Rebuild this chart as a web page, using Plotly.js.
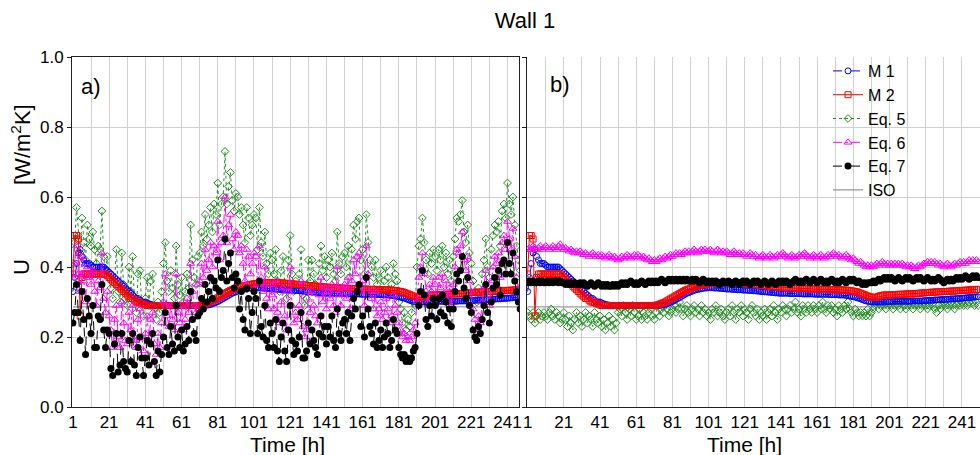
<!DOCTYPE html>
<html>
<head>
<meta charset="utf-8">
<script src="https://cdn.plot.ly/plotly-3.0.1.min.js"></script>
<style>html,body{margin:0;padding:0;background:#fff;}#chart{width:980px;height:455px;}</style>
</head>
<body>
<div id="chart"></div>
<script>
// ---- data (U-values in W/m2K, hourly) ----
const tickHours = [1,21,41,61,81,101,121,141,161,181,201,221,241];
const tickLabels = ['1','21','41','61','81','101','121','141','161','181','201','221','241'];

const isoHours = [1, 250];
const isoU = [0.286, 0.286];

// M 1 and M 2 (same measurement series in both panels)
const m1 = [
0.33,0.37,0.41,0.44,0.45,0.43,0.42,0.41,0.41,0.41,
0.405,0.40,0.40,0.40,0.40,0.40,0.40,0.40,0.395,0.39,
0.385,0.38,0.375,0.37,0.365,0.36,0.355,0.35,0.345,0.34,
0.335,0.33,0.325,0.32,0.315,0.31,0.31,0.305,0.30,0.30,
0.30,0.297,0.295,0.293,0.292,0.291,0.29,0.29,0.29,0.29,
0.29,0.29,0.29,0.29,0.29,0.29,0.29,0.29,0.29,0.29,
0.29,0.29,0.29,0.29,0.29,0.29,0.29,0.29,0.29,0.29,
0.29,0.29,0.29,0.29,0.291,0.292,0.293,0.295,0.297,0.299,
0.301,0.304,0.307,0.31,0.313,0.316,0.319,0.322,0.325,0.327,
0.329,0.331,0.333,0.335,0.336,0.337,0.338,0.339,0.34,0.34,
0.341,0.341,0.341,0.34,0.34,0.34,0.339,0.339,0.338,0.338,
0.337,0.337,0.337,0.336,0.336,0.336,0.335,0.335,0.335,0.334,
0.334,0.334,0.333,0.333,0.333,0.332,0.332,0.331,0.331,0.33,
0.33,0.329,0.329,0.328,0.328,0.327,0.327,0.326,0.326,0.325,
0.325,0.325,0.325,0.325,0.325,0.324,0.324,0.324,0.324,0.324,
0.324,0.324,0.323,0.323,0.323,0.323,0.323,0.323,0.323,0.322,
0.322,0.322,0.322,0.322,0.322,0.322,0.322,0.321,0.321,0.321,
0.321,0.321,0.32,0.32,0.32,0.32,0.319,0.318,0.317,0.316,
0.315,0.314,0.312,0.311,0.309,0.307,0.305,0.303,0.302,0.301,
0.30,0.30,0.30,0.30,0.30,0.30,0.30,0.30,0.301,0.301,
0.301,0.301,0.302,0.302,0.302,0.302,0.302,0.302,0.302,0.302,
0.302,0.302,0.302,0.303,0.303,0.303,0.303,0.303,0.303,0.304,
0.304,0.304,0.305,0.305,0.305,0.306,0.306,0.306,0.307,0.307,
0.307,0.308,0.308,0.308,0.309,0.309,0.309,0.31,0.31,0.31,
0.311,0.311,0.312,0.312,0.313,0.313,0.314,0.314,0.315,0.315];

const m2 = [
0.38,0.49,0.49,0.48,0.26,0.37,0.38,0.38,0.38,0.38,
0.38,0.38,0.38,0.38,0.38,0.38,0.38,0.38,0.38,0.375,
0.37,0.365,0.36,0.355,0.35,0.345,0.34,0.335,0.33,0.325,
0.32,0.315,0.31,0.31,0.305,0.30,0.30,0.298,0.296,0.294,
0.292,0.29,0.29,0.29,0.29,0.29,0.29,0.29,0.29,0.29,
0.29,0.29,0.29,0.29,0.29,0.29,0.29,0.29,0.29,0.29,
0.29,0.29,0.29,0.29,0.29,0.29,0.29,0.29,0.29,0.29,
0.29,0.291,0.292,0.294,0.296,0.298,0.30,0.303,0.306,0.309,
0.312,0.315,0.318,0.321,0.324,0.327,0.33,0.333,0.335,0.337,
0.339,0.341,0.343,0.345,0.346,0.347,0.348,0.349,0.35,0.351,
0.352,0.353,0.353,0.354,0.354,0.354,0.355,0.355,0.355,0.355,
0.355,0.355,0.355,0.355,0.355,0.354,0.354,0.354,0.353,0.353,
0.352,0.352,0.351,0.351,0.35,0.35,0.349,0.349,0.348,0.348,
0.347,0.347,0.346,0.346,0.345,0.345,0.344,0.344,0.343,0.343,
0.342,0.342,0.342,0.341,0.341,0.341,0.34,0.34,0.34,0.34,
0.339,0.339,0.339,0.339,0.338,0.338,0.338,0.338,0.337,0.337,
0.337,0.337,0.337,0.336,0.336,0.336,0.336,0.336,0.335,0.335,
0.335,0.335,0.335,0.335,0.334,0.334,0.334,0.333,0.333,0.332,
0.331,0.33,0.329,0.327,0.325,0.323,0.321,0.319,0.317,0.315,
0.314,0.313,0.313,0.314,0.316,0.318,0.319,0.32,0.32,0.32,
0.32,0.32,0.321,0.321,0.321,0.322,0.322,0.322,0.322,0.323,
0.323,0.323,0.323,0.324,0.324,0.324,0.325,0.325,0.326,0.326,
0.327,0.327,0.327,0.328,0.328,0.328,0.329,0.329,0.329,0.33,
0.33,0.33,0.33,0.331,0.331,0.331,0.332,0.332,0.332,0.333,
0.333,0.333,0.334,0.334,0.334,0.335,0.335,0.335,0.336,0.336];

// panel a)
const eq5a = [
0.41,0.47,0.57,0.49,0.44,0.54,0.47,0.42,0.52,0.48,
0.46,0.50,0.45,0.41,0.46,0.45,0.56,0.43,0.39,0.43,
0.37,0.34,0.31,0.36,0.45,0.33,0.30,0.44,0.35,0.31,
0.29,0.40,0.33,0.43,0.30,0.27,0.38,0.39,0.29,0.26,
0.31,0.37,0.29,0.36,0.38,0.28,0.25,0.30,0.27,0.33,
0.41,0.47,0.36,0.33,0.39,0.34,0.31,0.46,0.35,0.32,
0.37,0.30,0.33,0.38,0.34,0.52,0.42,0.37,0.35,0.43,
0.44,0.50,0.46,0.55,0.48,0.52,0.57,0.50,0.58,0.55,
0.64,0.52,0.58,0.60,0.73,0.58,0.63,0.67,0.59,0.56,
0.61,0.60,0.55,0.57,0.52,0.47,0.57,0.54,0.49,0.52,
0.55,0.54,0.45,0.57,0.47,0.43,0.50,0.41,0.38,0.44,
0.42,0.38,0.45,0.36,0.33,0.39,0.43,0.35,0.31,0.42,
0.49,0.38,0.33,0.36,0.34,0.38,0.45,0.32,0.29,0.31,
0.42,0.36,0.42,0.38,0.35,0.33,0.41,0.46,0.39,0.43,
0.37,0.42,0.40,0.44,0.38,0.36,0.50,0.41,0.38,0.43,
0.44,0.40,0.46,0.37,0.45,0.52,0.48,0.53,0.54,0.42,
0.45,0.38,0.55,0.47,0.42,0.40,0.37,0.42,0.35,0.37,
0.39,0.33,0.36,0.40,0.37,0.32,0.35,0.41,0.38,0.36,
0.30,0.28,0.24,0.27,0.22,0.25,0.23,0.27,0.30,0.29,
0.40,0.46,0.48,0.54,0.47,0.42,0.38,0.44,0.41,0.45,
0.43,0.39,0.45,0.42,0.46,0.40,0.44,0.38,0.42,0.36,
0.43,0.48,0.54,0.53,0.55,0.59,0.50,0.47,0.52,0.44,
0.41,0.36,0.33,0.30,0.34,0.31,0.38,0.42,0.48,0.40,
0.37,0.45,0.49,0.52,0.50,0.53,0.46,0.56,0.58,0.54,
0.64,0.58,0.55,0.60,0.52,0.46,0.42,0.39];

const eq6a = [
0.37,0.41,0.46,0.38,0.33,0.43,0.36,0.30,0.40,0.37,
0.35,0.39,0.33,0.29,0.36,0.34,0.44,0.31,0.27,0.33,
0.26,0.22,0.17,0.25,0.29,0.20,0.17,0.30,0.24,0.19,
0.18,0.27,0.22,0.29,0.19,0.17,0.25,0.28,0.20,0.16,
0.21,0.26,0.19,0.25,0.27,0.18,0.15,0.21,0.17,0.24,
0.30,0.38,0.26,0.23,0.29,0.25,0.22,0.38,0.27,0.24,
0.29,0.22,0.25,0.31,0.27,0.41,0.33,0.29,0.27,0.35,
0.36,0.41,0.37,0.45,0.39,0.42,0.47,0.40,0.46,0.44,
0.53,0.42,0.47,0.49,0.60,0.47,0.52,0.55,0.48,0.45,
0.50,0.49,0.44,0.46,0.41,0.36,0.45,0.43,0.38,0.41,
0.44,0.43,0.35,0.46,0.37,0.33,0.40,0.31,0.28,0.35,
0.32,0.28,0.36,0.27,0.24,0.30,0.34,0.26,0.22,0.33,
0.40,0.29,0.24,0.27,0.25,0.29,0.36,0.23,0.20,0.22,
0.33,0.27,0.33,0.29,0.26,0.24,0.32,0.37,0.30,0.34,
0.28,0.33,0.31,0.35,0.29,0.27,0.40,0.32,0.29,0.34,
0.35,0.31,0.37,0.28,0.36,0.42,0.38,0.43,0.44,0.33,
0.36,0.29,0.46,0.38,0.33,0.31,0.28,0.33,0.26,0.28,
0.30,0.25,0.27,0.31,0.28,0.24,0.26,0.32,0.29,0.27,
0.24,0.22,0.20,0.21,0.19,0.20,0.19,0.20,0.22,0.24,
0.30,0.37,0.40,0.44,0.38,0.33,0.30,0.35,0.33,0.37,
0.35,0.31,0.37,0.34,0.38,0.32,0.36,0.30,0.34,0.29,
0.35,0.40,0.45,0.44,0.46,0.50,0.42,0.39,0.43,0.36,
0.33,0.28,0.25,0.22,0.26,0.24,0.30,0.34,0.39,0.32,
0.29,0.36,0.40,0.43,0.41,0.44,0.37,0.47,0.49,0.45,
0.53,0.48,0.45,0.51,0.43,0.37,0.34,0.31];

const eq7a = [
0.24,0.27,0.35,0.27,0.19,0.33,0.25,0.15,0.31,0.26,
0.21,0.29,0.17,0.17,0.26,0.25,0.35,0.22,0.17,0.22,
0.21,0.11,0.09,0.18,0.21,0.10,0.12,0.21,0.13,0.11,
0.10,0.19,0.13,0.21,0.12,0.09,0.17,0.20,0.14,0.09,
0.14,0.19,0.12,0.18,0.21,0.13,0.09,0.16,0.10,0.15,
0.20,0.27,0.17,0.15,0.23,0.18,0.16,0.29,0.20,0.17,
0.22,0.16,0.18,0.23,0.19,0.33,0.25,0.21,0.19,0.26,
0.27,0.31,0.28,0.35,0.30,0.33,0.37,0.31,0.36,0.34,
0.42,0.33,0.37,0.39,0.48,0.36,0.41,0.44,0.37,0.34,
0.38,0.36,0.28,0.33,0.25,0.22,0.34,0.31,0.21,0.27,
0.33,0.31,0.21,0.36,0.23,0.20,0.29,0.19,0.17,0.24,
0.21,0.17,0.25,0.16,0.13,0.20,0.24,0.16,0.13,0.22,
0.29,0.19,0.15,0.18,0.16,0.20,0.27,0.14,0.14,0.16,
0.24,0.18,0.22,0.19,0.17,0.15,0.21,0.26,0.20,0.23,
0.18,0.23,0.20,0.26,0.19,0.17,0.28,0.21,0.19,0.24,
0.25,0.21,0.27,0.19,0.26,0.31,0.28,0.33,0.35,0.23,
0.26,0.20,0.37,0.28,0.23,0.21,0.18,0.24,0.17,0.19,
0.22,0.17,0.20,0.24,0.21,0.17,0.19,0.25,0.22,0.21,
0.17,0.15,0.14,0.15,0.13,0.14,0.13,0.14,0.16,0.17,
0.21,0.29,0.33,0.39,0.32,0.25,0.23,0.29,0.26,0.31,
0.29,0.25,0.31,0.27,0.32,0.26,0.30,0.24,0.28,0.23,
0.28,0.33,0.38,0.36,0.39,0.43,0.34,0.31,0.37,0.29,
0.27,0.22,0.20,0.19,0.23,0.21,0.25,0.29,0.35,0.27,
0.24,0.30,0.34,0.37,0.35,0.39,0.32,0.41,0.42,0.38,
0.47,0.41,0.38,0.44,0.36,0.33,0.30,0.28];

// panel b)
const eq5b = [
0.27,0.26,0.25,0.27,0.24,0.26,0.27,0.25,0.26,0.27,
0.26,0.25,0.27,0.28,0.26,0.25,0.27,0.26,0.24,0.25,
0.27,0.25,0.23,0.26,0.24,0.22,0.25,0.27,0.24,0.26,
0.23,0.25,0.27,0.24,0.26,0.25,0.23,0.27,0.25,0.24,
0.26,0.23,0.25,0.22,0.24,0.26,0.23,0.25,0.22,0.24,
0.27,0.28,0.26,0.29,0.27,0.25,0.28,0.26,0.29,0.27,
0.25,0.26,0.28,0.25,0.27,0.26,0.25,0.27,0.28,0.26,
0.25,0.27,0.29,0.26,0.28,0.27,0.29,0.28,0.26,0.27,
0.28,0.29,0.27,0.28,0.30,0.28,0.26,0.28,0.29,0.27,
0.26,0.28,0.29,0.27,0.28,0.26,0.29,0.27,0.28,0.26,
0.27,0.25,0.28,0.27,0.29,0.26,0.27,0.28,0.26,0.25,
0.27,0.28,0.26,0.29,0.27,0.25,0.28,0.27,0.29,0.26,
0.28,0.27,0.25,0.28,0.29,0.27,0.26,0.28,0.25,0.27,
0.26,0.28,0.25,0.27,0.28,0.26,0.29,0.27,0.25,0.28,
0.27,0.29,0.28,0.26,0.28,0.29,0.27,0.28,0.30,0.27,
0.28,0.26,0.29,0.28,0.27,0.29,0.28,0.27,0.29,0.28,
0.27,0.29,0.28,0.30,0.28,0.27,0.29,0.28,0.29,0.27,
0.28,0.26,0.29,0.28,0.27,0.29,0.28,0.30,0.28,0.27,
0.26,0.28,0.27,0.26,0.27,0.26,0.27,0.26,0.28,0.26,
0.27,0.28,0.29,0.30,0.28,0.29,0.30,0.29,0.28,0.29,
0.30,0.29,0.28,0.29,0.30,0.29,0.28,0.30,0.29,0.28,
0.29,0.30,0.29,0.28,0.29,0.30,0.29,0.28,0.29,0.30,
0.29,0.28,0.29,0.30,0.29,0.28,0.27,0.29,0.28,0.29,
0.30,0.29,0.28,0.29,0.30,0.29,0.28,0.29,0.30,0.29,
0.30,0.29,0.30,0.29,0.30,0.31,0.30,0.29,0.30,0.29];

const eq6b = [
0.45,0.455,0.45,0.46,0.455,0.45,0.455,0.46,0.45,0.455,
0.46,0.455,0.45,0.455,0.46,0.455,0.45,0.46,0.465,0.455,
0.45,0.455,0.45,0.445,0.45,0.445,0.44,0.445,0.44,0.445,
0.44,0.435,0.44,0.435,0.43,0.435,0.44,0.435,0.43,0.435,
0.43,0.435,0.43,0.425,0.43,0.435,0.43,0.425,0.43,0.425,
0.42,0.425,0.43,0.425,0.43,0.435,0.43,0.425,0.43,0.435,
0.43,0.435,0.43,0.425,0.43,0.425,0.42,0.425,0.42,0.415,
0.42,0.415,0.42,0.425,0.42,0.425,0.43,0.425,0.43,0.435,
0.43,0.435,0.44,0.435,0.44,0.435,0.44,0.445,0.44,0.445,
0.44,0.445,0.45,0.445,0.44,0.445,0.45,0.445,0.45,0.445,
0.445,0.45,0.445,0.44,0.445,0.45,0.445,0.44,0.445,0.44,
0.445,0.44,0.435,0.44,0.445,0.44,0.435,0.44,0.435,0.44,
0.435,0.43,0.435,0.44,0.435,0.43,0.435,0.43,0.425,0.43,
0.435,0.43,0.425,0.43,0.435,0.43,0.425,0.43,0.435,0.43,
0.435,0.44,0.435,0.43,0.425,0.43,0.435,0.43,0.425,0.43,
0.435,0.43,0.435,0.44,0.435,0.43,0.425,0.43,0.435,0.43,
0.425,0.43,0.435,0.43,0.425,0.43,0.435,0.43,0.435,0.44,
0.435,0.43,0.435,0.43,0.425,0.43,0.435,0.43,0.425,0.42,
0.425,0.42,0.415,0.41,0.415,0.41,0.405,0.40,0.405,0.40,
0.405,0.40,0.405,0.41,0.405,0.41,0.415,0.41,0.405,0.41,
0.405,0.41,0.405,0.41,0.405,0.41,0.405,0.41,0.405,0.40,
0.405,0.40,0.405,0.40,0.395,0.40,0.405,0.40,0.405,0.41,
0.41,0.415,0.41,0.415,0.41,0.415,0.41,0.405,0.41,0.405,
0.40,0.405,0.41,0.405,0.40,0.405,0.41,0.405,0.41,0.415,
0.41,0.415,0.41,0.415,0.42,0.415,0.42,0.415,0.42,0.415];

const eq7b = [
0.355,0.36,0.355,0.36,0.355,0.355,0.36,0.355,0.36,0.355,
0.355,0.36,0.355,0.36,0.355,0.36,0.36,0.355,0.36,0.355,
0.355,0.35,0.355,0.35,0.355,0.35,0.355,0.35,0.35,0.355,
0.35,0.355,0.35,0.345,0.35,0.355,0.35,0.345,0.35,0.355,
0.35,0.345,0.35,0.345,0.35,0.345,0.345,0.35,0.345,0.35,
0.345,0.35,0.355,0.35,0.355,0.35,0.355,0.36,0.355,0.35,
0.355,0.35,0.355,0.36,0.355,0.35,0.355,0.36,0.355,0.36,
0.355,0.36,0.355,0.36,0.365,0.36,0.355,0.36,0.365,0.36,
0.365,0.36,0.365,0.36,0.365,0.36,0.365,0.36,0.365,0.36,
0.36,0.365,0.36,0.365,0.36,0.355,0.36,0.365,0.36,0.355,
0.36,0.355,0.36,0.355,0.36,0.355,0.35,0.355,0.36,0.355,
0.355,0.36,0.355,0.35,0.355,0.36,0.355,0.35,0.355,0.36,
0.355,0.36,0.355,0.35,0.355,0.36,0.355,0.36,0.355,0.35,
0.355,0.36,0.355,0.35,0.355,0.36,0.355,0.35,0.355,0.36,
0.355,0.36,0.355,0.36,0.355,0.35,0.355,0.36,0.365,0.36,
0.355,0.36,0.355,0.36,0.365,0.36,0.355,0.36,0.365,0.36,
0.355,0.36,0.365,0.36,0.355,0.36,0.355,0.36,0.365,0.36,
0.355,0.36,0.355,0.36,0.365,0.36,0.355,0.36,0.365,0.36,
0.365,0.36,0.355,0.36,0.355,0.35,0.355,0.35,0.355,0.355,
0.355,0.36,0.355,0.36,0.365,0.36,0.365,0.37,0.365,0.37,
0.365,0.37,0.365,0.36,0.365,0.37,0.365,0.36,0.365,0.37,
0.365,0.37,0.365,0.36,0.365,0.37,0.365,0.37,0.365,0.36,
0.365,0.37,0.365,0.36,0.365,0.36,0.365,0.37,0.365,0.36,
0.355,0.36,0.365,0.36,0.365,0.36,0.365,0.37,0.365,0.37,
0.365,0.37,0.375,0.37,0.365,0.37,0.375,0.37,0.375,0.37];

// ---- build ----
const hoursOf = arr => arr.map((_, i) => i + 1);
const FONT = 'Liberation Sans, Arial, Helvetica, sans-serif';

const styles = {
  m1:  {name:'M 1',   line:{color:'#0000ff', width:1, dash:'dash'},    marker:{symbol:'circle-open', size:6, color:'#0000ff', line:{width:1}}, rank:1},
  m2:  {name:'M 2',   line:{color:'#ff0000', width:1, dash:'solid'},   marker:{symbol:'square-open', size:6, color:'#ff0000', line:{width:1}}, rank:2},
  eq5: {name:'Eq. 5', line:{color:'#1f8f1f', width:1, dash:'dot'},     marker:{symbol:'diamond-open', size:6, color:'#1f8f1f', line:{width:1}}, rank:3},
  eq6: {name:'Eq. 6', line:{color:'#ff00ff', width:1, dash:'dashdot'}, marker:{symbol:'triangle-up-open', size:7, color:'#ff00ff', line:{width:1}}, rank:4},
  eq7: {name:'Eq. 7', line:{color:'#000000', width:1, dash:'dash'},    marker:{symbol:'circle', size:7, color:'#000000'}, rank:5},
  iso: {name:'ISO',   line:{color:'#808080', width:1, dash:'solid'},   marker:null, rank:6}
};

function tr(key, xs, ys, xa, ya, show) {
  const s = styles[key];
  const t = {x: xs, y: ys, xaxis: xa, yaxis: ya, type:'scatter', name: s.name,
    mode: s.marker ? 'lines+markers' : 'lines', line: s.line, showlegend: show,
    legendrank: s.rank, hoverinfo:'skip'};
  if (s.marker) t.marker = s.marker;
  return t;
}

const data = [
  tr('iso', isoHours, isoU, 'x', 'y', false),
  tr('eq5', hoursOf(eq5a), eq5a, 'x', 'y', false),
  tr('m1', hoursOf(m1), m1, 'x', 'y', false),
  tr('m2', hoursOf(m2), m2, 'x', 'y', false),
  tr('eq6', hoursOf(eq6a), eq6a, 'x', 'y', false),
  tr('eq7', hoursOf(eq7a), eq7a, 'x', 'y', false),

  tr('iso', isoHours, isoU, 'x2', 'y2', true),
  tr('eq5', hoursOf(eq5b), eq5b, 'x2', 'y2', true),
  tr('m1', hoursOf(m1), m1, 'x2', 'y2', true),
  tr('m2', hoursOf(m2), m2, 'x2', 'y2', true),
  tr('eq6', hoursOf(eq6b), eq6b, 'x2', 'y2', true),
  tr('eq7', hoursOf(eq7b), eq7b, 'x2', 'y2', true)
];

const gridColor = '#d0d0d0';
const axisLine = '#222222';
const xCommon = {
  tickmode:'array', tickvals: tickHours, ticktext: tickLabels,
  showgrid:true, gridcolor: gridColor, gridwidth:1,
  minor:{tick0:1, dtick:10, showgrid:true, gridcolor: gridColor, gridwidth:1, ticks:''},
  showline:true, linecolor: axisLine, linewidth:1, mirror:true,
  ticks:'', zeroline:false,
  tickfont:{family:FONT, size:17, color:'#000'}
};
const yCommon = {
  range:[0,1], dtick:0.2, tick0:0, tickformat:'.1f',
  showgrid:true, gridcolor: gridColor, gridwidth:1,
  showline:true, linecolor: axisLine, linewidth:1,
  ticks:'outside', ticklen:4, tickcolor: axisLine, zeroline:false,
  tickfont:{family:FONT, size:17, color:'#000'}
};

const layout = {
  width:980, height:455,
  margin:{l:72, r:0, t:57, b:48},
  paper_bgcolor:'#ffffff', plot_bgcolor:'#ffffff',
  font:{family:FONT, color:'#000'},
  title:{text:'Wall 1', font:{family:FONT, size:22, color:'#000'}, x:525/980, xanchor:'center', y:1-20/455, yanchor:'middle', yref:'container'},
  showlegend:true,
  legend:{x:(828-72)/908, xanchor:'left', y:1+(57-54)/350, yanchor:'top', bgcolor:'rgba(0,0,0,0)',
          font:{family:FONT, size:16, color:'#000'}, tracegroupgap:0, itemwidth:30},
  xaxis: Object.assign({}, xCommon, {domain:[0, 0.4928], range:[0.5, 247.6], anchor:'y'}),
  yaxis: Object.assign({}, yCommon, {anchor:'x', mirror:true}),
  xaxis2: Object.assign({}, xCommon, {domain:[0.5008, 1], range:[0.5, 251], anchor:'y2', mirror:false}),
  yaxis2: Object.assign({}, yCommon, {anchor:'x2', showticklabels:false, mirror:false}),
  annotations:[
    {text:'a)', xref:'x domain', yref:'y domain', x:0.016, y:0.917, xanchor:'left', yanchor:'middle', showarrow:false, font:{family:FONT, size:22}},
    {text:'b)', xref:'x2 domain', yref:'y2 domain', x:0.047, y:0.922, xanchor:'left', yanchor:'middle', showarrow:false, font:{family:FONT, size:22}},
    {text:'Time [h]', xref:'paper', yref:'paper', x:(287-72)/908, y:(407-444)/350, xanchor:'center', yanchor:'middle', showarrow:false, font:{family:FONT, size:21}},
    {text:'Time [h]', xref:'paper', yref:'paper', x:(744-72)/908, y:(407-444)/350, xanchor:'center', yanchor:'middle', showarrow:false, font:{family:FONT, size:21}},
    {text:'U', xref:'paper', yref:'paper', x:(21-72)/908, y:(407-267)/350, xanchor:'center', yanchor:'middle', textangle:-90, showarrow:false, font:{family:FONT, size:22}},
    {text:'[W/m<sup>2</sup>K]', xref:'paper', yref:'paper', x:(21-72)/908, y:(407-145)/350, xanchor:'center', yanchor:'middle', textangle:-90, showarrow:false, font:{family:FONT, size:22}}
  ]
};

Plotly.newPlot('chart', data, layout, {displayModeBar:false, staticPlot:true});
</script>
</body>
</html>
